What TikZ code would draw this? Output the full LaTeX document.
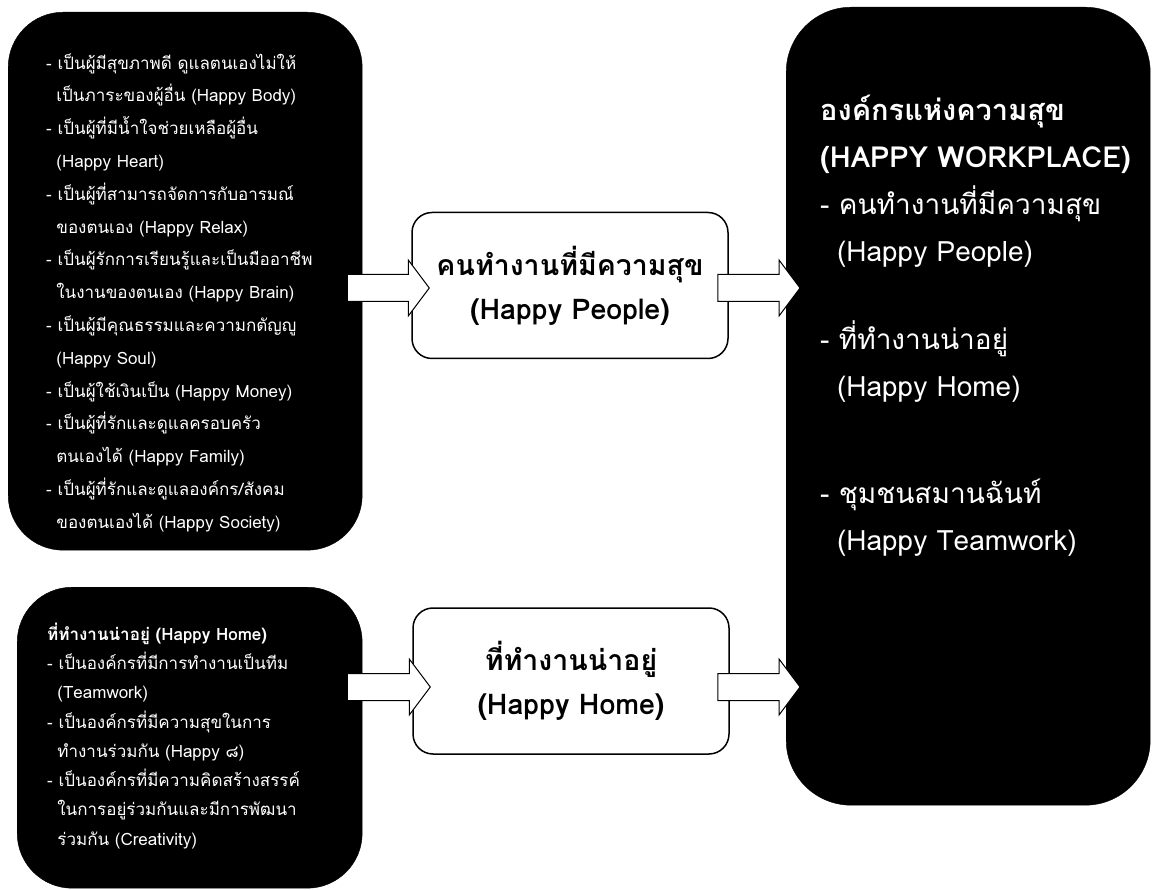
\documentclass[tikz,border=0pt]{standalone}
\usepackage{fontspec}
\setmainfont[Script=Thai]{Loma}
\usepackage{tikz}
\usetikzlibrary{calc}
\tikzstyle{listbox} = [rectangle, rounded corners=55pt, fill=black, draw=black, text=white, anchor=north west, align=left, inner ysep=0pt]
\tikzstyle{goalbox} = [rectangle, rounded corners=20pt, draw=black, line width=1.5pt, fill=white, minimum width=316pt, minimum height=146pt, align=center, font=\bfseries\fontsize{28.5}{44}\selectfont]
\tikzstyle{fatarrow} = [draw=black, fill=white, line width=1pt]
\newcommand{\hang}{\hspace*{0.6em}}
\newcommand{\blockarrow}[2]{%
  \draw [fatarrow] let \p1=(#1), \p2=(#2) in
    (\x1,\y2+13.5pt) -- (\x2-21pt,\y2+13.5pt) -- (\x2-21pt,\y2+28pt) -- (\x2,\y2)
    -- (\x2-21pt,\y2-28pt) -- (\x2-21pt,\y2-13.5pt) -- (\x1,\y2-13.5pt) -- cycle;}

\begin{document}
\begin{tikzpicture}[x=1pt, y=-1pt]
\useasboundingbox (0,0) rectangle (1152,890);

% left column
\node (peoplelist) [listbox, inner xsep=38pt, text width=278pt, text height=57pt, text depth=481pt, font=\fontsize{17}{32.8}\selectfont] at (8,12) {- เป็นผู้มีสุขภาพดี ดูแลตนเองไม่ให้\\
\hang เป็นภาระของผู้อื่น (Happy Body)\\
- เป็นผู้ที่มีน้ำใจช่วยเหลือผู้อื่น\\
\hang (Happy Heart)\\
- เป็นผู้ที่สามารถจัดการกับอารมณ์\\
\hang ของตนเอง (Happy Relax)\\
- เป็นผู้รักการเรียนรู้และเป็นมืออาชีพ\\
\hang ในงานของตนเอง (Happy Brain)\\
- เป็นผู้มีคุณธรรมและความกตัญญู\\
\hang (Happy Soul)\\
- เป็นผู้ใช้เงินเป็น (Happy Money)\\
- เป็นผู้ที่รักและดูแลครอบครัว\\
\hang ตนเองได้ (Happy Family)\\
- เป็นผู้ที่รักและดูแลองค์กร/สังคม\\
\hang ของตนเองได้ (Happy Society)};
\node (homelist) [listbox, inner xsep=30pt, text width=285pt, text height=53pt, text depth=248pt, font=\fontsize{17}{29.3}\selectfont] at (17,587) {{\bfseries ที่ทำงานน่าอยู่ (Happy Home)}\\
- เป็นองค์กรที่มีการทำงานเป็นทีม\\
\hang (Teamwork)\\
- เป็นองค์กรที่มีความสุขในการ\\
\hang ทำงานร่วมกัน (Happy ๘)\\
- เป็นองค์กรที่มีความคิดสร้างสรรค์\\
\hang ในการอยู่ร่วมกันและมีการพัฒนา\\
\hang ร่วมกัน (Creativity)};

% middle column
\node (people) [goalbox] at (570,285.5) {คนทำงานที่มีความสุข\\(Happy People)};
\node (home) [goalbox] at (571,681) {ที่ทำงานน่าอยู่\\(Happy Home)};

% right column
\node (workplace) [listbox, rounded corners=65pt, inner xsep=34pt, text width=296pt, text height=113pt, text depth=685pt, font=\fontsize{28}{47}\selectfont] at (786,7) {{\bfseries\fontsize{29}{47}\selectfont องค์กรแห่งความสุข}\\
{\bfseries\fontsize{29}{47}\selectfont\mbox{(HAPPY WORKPLACE)}}\\
- คนทำงานที่มีความสุข\\
\hang (Happy People)\\[41pt]
- ที่ทำงานน่าอยู่\\
\hang (Happy Home)\\[60pt]
- ชุมชนสมานฉันท์\\
\hang (Happy Teamwork)};

% block arrows
\blockarrow{$(peoplelist.east)+(-15,0)$}{$(people.west)+(18,2.5)$}
\blockarrow{$(people.east)+(-11,0)$}{$(people.east -| workplace.west)+(14,2.5)$}
\blockarrow{$(homelist.east)+(-15,0)$}{$(home.west)+(18,6)$}
\blockarrow{$(home.east)+(-12,0)$}{$(home.east -| workplace.west)+(14,6)$}
\end{tikzpicture}
\end{document}
